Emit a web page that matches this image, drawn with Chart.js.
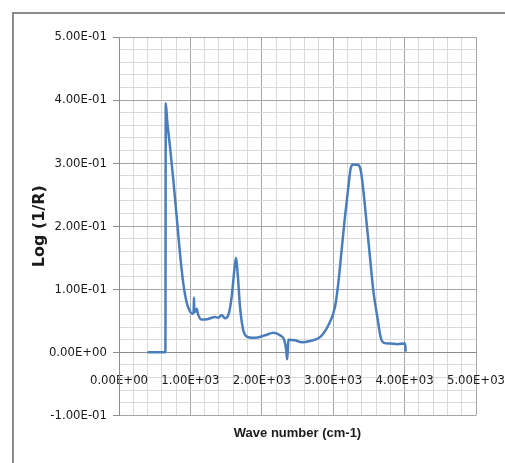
<!DOCTYPE html>
<html>
<head>
<meta charset="utf-8">
<title>Log (1/R)</title>
<script src="https://cdn.jsdelivr.net/npm/chart.js@4.4.1/dist/chart.umd.min.js"></script>
<style>
    body { margin: 0; background: #fff; overflow: hidden; }
</style>
</head>
<body>
<canvas id="spectrum" width="505" height="463"></canvas>
<script>
// Wave number (cm-1)
const waveNumbers = [
    400, 650, 655, 676, 714, 761, 808, 854, 901, 948, 994, 1027, 1044, 1050, 1056, 1064, 1088, 1111, 1158,
    1251, 1345, 1390, 1438, 1485, 1531, 1578, 1615, 1639, 1662, 1695, 1741, 1811, 1905, 2045, 2162, 2255,
    2316, 2340, 2355, 2365, 2372, 2465, 2560, 2675, 2815, 2932, 3025, 3071, 3118, 3165, 3212, 3245, 3282,
    3352, 3385, 3422, 3469, 3515, 3562, 3618, 3665, 3711, 3795, 3900, 4006, 4015
];

// Log (1/R) values for each wave number
const logR = [
    0, 0, 0.395, 0.366, 0.326, 0.273, 0.215, 0.157, 0.109, 0.079, 0.065, 0.061, 0.063, 0.087, 0.064, 0.064, 0.069, 0.059, 0.052,
    0.053, 0.056, 0.055, 0.059, 0.054, 0.059, 0.088, 0.130, 0.150, 0.125, 0.072, 0.035, 0.024, 0.023, 0.027, 0.031, 0.027,
    0.019, 0.005, -0.011, 0.005, 0.020, 0.019, 0.016, 0.018, 0.024, 0.043, 0.072, 0.109, 0.162, 0.215, 0.262, 0.292, 0.298,
    0.297, 0.289, 0.257, 0.204, 0.151, 0.098, 0.056, 0.024, 0.015, 0.014, 0.013, 0.014, 0.001
];

// Labelled ticks on both axes
const xMajorTicks = [0, 1000, 2000, 3000, 4000, 5000];
const yMajorTicks = [-0.1, 0, 0.1, 0.2, 0.3, 0.4, 0.5];
const xMinorStep = 200;
const yMinorStep = 0.02;

const tickFont = { family: "'DejaVu Sans Condensed', 'Liberation Sans', sans-serif", size: 13 };

// Excel style number format 0.00E+00
function toExcelSci(v) {
    if (Math.abs(v) < 1e-12) return '0.00E+00';
    const exp = Math.floor(Math.log10(Math.abs(v)) + 1e-9);
    const mant = v / Math.pow(10, exp);
    const sign = exp < 0 ? '-' : '+';
    return mant.toFixed(2) + 'E' + sign + String(Math.abs(exp)).padStart(2, '0');
}

// Find the labelled tick matching a value, if any
function findMajor(value, majors) {
    return majors.find(m => Math.abs(m - value) < 1e-6);
}

// Build every grid tick between the first and last major tick
function makeTicks(majors, step) {
    const ticks = [];
    const first = majors[0];
    const last = majors[majors.length - 1];
    const n = Math.round((last - first) / step);
    for (let i = 0; i <= n; i++) {
        ticks.push({ value: Math.round((first + i * step) * 1e6) / 1e6 });
    }
    return ticks;
}

function gridColor(majors) {
    return ctx => findMajor(ctx.tick.value, majors) !== undefined ? '#a6a6a6' : '#d9d9d9';
}

function tickLabel(majors) {
    return value => {
        const m = findMajor(value, majors);
        return m !== undefined ? toExcelSci(m) : '';
    };
}

// Grey frame on the left and top of the picture
const framePlugin = {
    id: 'frame',
    beforeDraw(chart) {
        const c = chart.ctx;
        c.save();
        c.strokeStyle = '#8c8c8c';
        c.lineWidth = 2;
        c.beginPath();
        c.moveTo(13, chart.height);
        c.lineTo(13, 13);
        c.lineTo(chart.width, 13);
        c.stroke();
        c.restore();
    }
};

const ctx = document.getElementById('spectrum').getContext('2d');

new Chart(ctx, {
    type: 'line',
    data: {
        datasets: [{
            data: waveNumbers.map((x, i) => ({ x: x, y: logR[i] })),
            borderColor: '#4a7dbb',
            borderWidth: 2.5,
            pointRadius: 0,
            cubicInterpolationMode: 'monotone',
            fill: false
        }]
    },
    options: {
        responsive: false,
        animation: false,
        layout: { padding: { left: 0, right: 29, top: 37, bottom: 0 } },
        plugins: {
            legend: { display: false },
            tooltip: { enabled: false },
            title: {
                display: true,
                text: 'Wave number (cm-1)',
                position: 'bottom',
                fullSize: false,
                color: '#1a1a1a',
                font: { family: "'Liberation Sans', sans-serif", size: 13, weight: 'bold' },
                padding: { top: 10, bottom: 22 }
            }
        },
        scales: {
            x: {
                type: 'linear',
                position: { y: 0 },
                min: xMajorTicks[0],
                max: xMajorTicks[xMajorTicks.length - 1],
                afterBuildTicks: scale => { scale.ticks = makeTicks(xMajorTicks, xMinorStep); },
                afterFit: scale => {
                    scale.height = 0;
                    scale.paddingLeft = 0;
                    scale.paddingRight = 0;
                },
                grid: { color: gridColor(xMajorTicks), drawTicks: false },
                border: { display: true, color: '#8c8c8c', width: 1 },
                ticks: {
                    autoSkip: false,
                    maxRotation: 0,
                    minRotation: 0,
                    padding: 20,
                    color: '#1a1a1a',
                    font: tickFont,
                    callback: tickLabel(xMajorTicks)
                }
            },
            y: {
                type: 'linear',
                min: yMajorTicks[0],
                max: yMajorTicks[yMajorTicks.length - 1],
                afterBuildTicks: scale => { scale.ticks = makeTicks(yMajorTicks, yMinorStep); },
                afterFit: scale => {
                    scale.width = 119;
                    scale.paddingTop = 0;
                    scale.paddingBottom = 0;
                },
                grid: {
                    color: gridColor(yMajorTicks),
                    tickLength: 6,
                    tickColor: c => findMajor(c.tick.value, yMajorTicks) !== undefined ? '#8c8c8c' : 'rgba(0,0,0,0)'
                },
                border: { display: true, color: '#8c8c8c', width: 1 },
                ticks: {
                    autoSkip: false,
                    padding: 6,
                    color: '#1a1a1a',
                    font: tickFont,
                    callback: tickLabel(yMajorTicks)
                },
                title: {
                    display: true,
                    text: 'Log (1/R)',
                    color: '#1a1a1a',
                    font: { family: "'DejaVu Sans', sans-serif", size: 16, weight: 'bold' },
                    padding: { top: 30, bottom: 0 }
                }
            }
        }
    },
    plugins: [framePlugin]
});
</script>
</body>
</html>
